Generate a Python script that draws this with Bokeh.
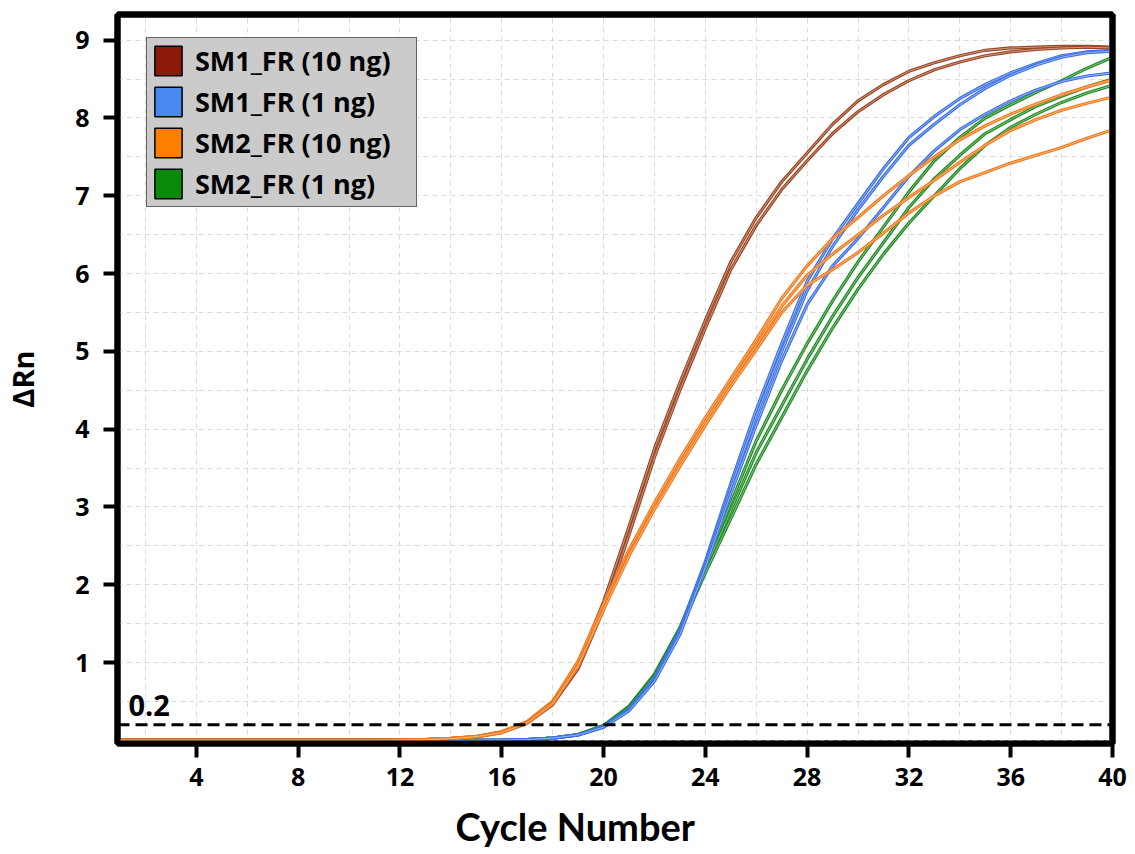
from bokeh.plotting import figure
from bokeh.models import (Span, Label, Legend, LegendItem, FixedTicker,
                          SingleIntervalTicker, LinearAxis, Title)
from bokeh.embed import file_html
from bokeh.resources import INLINE

# ---- data: amplification curves (delta Rn per cycle) ----
cycles = list(range(1, 41))
x_ticks = [4, 8, 12, 16, 20, 24, 28, 32, 36, 40]
y_ticks = [1, 2, 3, 4, 5, 6, 7, 8, 9]
threshold = 0.2

base11 = [0.0] * 11
base14 = [0.0] * 14

sm1_10ng_a = base11 + [0.005, 0.01, 0.025, 0.05, 0.11, 0.24, 0.50, 0.98, 1.78, 2.75,
                       3.75, 4.6, 5.4, 6.15, 6.72, 7.18, 7.55, 7.92, 8.22, 8.43,
                       8.6, 8.71, 8.8, 8.87, 8.9, 8.91, 8.92, 8.92, 8.91]
sm1_10ng_b = base11 + [0.004, 0.009, 0.022, 0.045, 0.10, 0.22, 0.46, 0.92, 1.68, 2.64,
                       3.64, 4.5, 5.3, 6.05, 6.62, 7.08, 7.45, 7.8, 8.08, 8.3,
                       8.48, 8.62, 8.72, 8.8, 8.85, 8.88, 8.9, 8.91, 8.9]

sm1_1ng_a = base14 + [0.002, 0.005, 0.01, 0.03, 0.07, 0.18, 0.4, 0.8, 1.42, 2.3,
                      3.3, 4.25, 5.1, 5.9, 6.45, 6.9, 7.35, 7.75, 8.02, 8.25,
                      8.43, 8.58, 8.7, 8.8, 8.85, 8.87]
sm1_1ng_b = base14 + [0.002, 0.005, 0.01, 0.03, 0.07, 0.17, 0.39, 0.78, 1.39, 2.26,
                      3.24, 4.17, 5.0, 5.78, 6.35, 6.82, 7.25, 7.65, 7.92, 8.17,
                      8.38, 8.55, 8.68, 8.78, 8.84, 8.86]
sm1_1ng_c = base14 + [0.002, 0.005, 0.01, 0.03, 0.07, 0.17, 0.38, 0.76, 1.36, 2.22,
                      3.17, 4.05, 4.88, 5.6, 6.1, 6.45, 6.85, 7.25, 7.58, 7.85,
                      8.05, 8.22, 8.36, 8.47, 8.54, 8.58]

sm2_10ng_a = base11 + [0.005, 0.01, 0.025, 0.05, 0.11, 0.24, 0.50, 1.02, 1.75, 2.45,
                       3.05, 3.62, 4.15, 4.65, 5.15, 5.68, 6.1, 6.45, 6.72, 7.0,
                       7.26, 7.5, 7.72, 7.9, 8.05, 8.18, 8.3, 8.4, 8.49]
sm2_10ng_b = base11 + [0.005, 0.01, 0.024, 0.05, 0.105, 0.23, 0.48, 0.98, 1.7, 2.4,
                       3.0, 3.56, 4.1, 4.6, 5.08, 5.58, 5.98, 6.25, 6.5, 6.75,
                       6.98, 7.2, 7.43, 7.65, 7.84, 7.98, 8.1, 8.19, 8.27]
sm2_10ng_c = base11 + [0.004, 0.009, 0.022, 0.048, 0.10, 0.225, 0.47, 0.96, 1.68, 2.37,
                       2.97, 3.52, 4.05, 4.55, 5.02, 5.5, 5.85, 6.05, 6.27, 6.52,
                       6.78, 7.0, 7.18, 7.3, 7.42, 7.52, 7.62, 7.74, 7.85]

sm2_1ng_a = base14 + [0.002, 0.005, 0.01, 0.03, 0.075, 0.19, 0.44, 0.85, 1.45, 2.25,
                      3.05, 3.85, 4.5, 5.1, 5.65, 6.15, 6.6, 7.05, 7.45, 7.75,
                      8.0, 8.17, 8.33, 8.48, 8.64, 8.78]
sm2_1ng_b = base14 + [0.002, 0.005, 0.01, 0.03, 0.075, 0.19, 0.43, 0.84, 1.43, 2.2,
                      2.95, 3.7, 4.3, 4.9, 5.45, 5.95, 6.4, 6.85, 7.22, 7.52,
                      7.8, 7.98, 8.15, 8.28, 8.4, 8.5]
sm2_1ng_c = base14 + [0.002, 0.005, 0.01, 0.03, 0.072, 0.18, 0.42, 0.83, 1.42, 2.15,
                      2.85, 3.55, 4.15, 4.75, 5.3, 5.8, 6.25, 6.65, 7.0, 7.35,
                      7.65, 7.88, 8.05, 8.2, 8.32, 8.42]

groups = [
    # (legend label, legend colour, curve colour, replicates)
    ("SM1_FR (10 ng)", "#8b1a0a", "#9c4522", [sm1_10ng_a, sm1_10ng_b]),
    ("SM1_FR (1 ng)", "#4a88f2", "#3d72e4", [sm1_1ng_a, sm1_1ng_b, sm1_1ng_c]),
    ("SM2_FR (10 ng)", "#ff7f00", "#f27a1c", [sm2_10ng_a, sm2_10ng_b, sm2_10ng_c]),
    ("SM2_FR (1 ng)", "#0b8a0b", "#1f8d23", [sm2_1ng_a, sm2_1ng_b, sm2_1ng_c]),
]
draw_order = [3, 1, 0, 2]

FONT = "Open Sans"

p = figure(frame_width=995, frame_height=729,
           min_border_left=117, min_border_right=23,
           min_border_top=14, min_border_bottom=111,
           x_range=(0.9, 40), y_range=(-0.04, 9.33),
           output_backend="svg", toolbar_location=None)

p.background_fill_color = "white"
p.border_fill_color = "white"
p.outline_line_color = "black"
p.outline_line_width = 6

# dashed grid: every 2 cycles and every 0.5 units
p.xgrid.ticker = SingleIntervalTicker(interval=2)
p.ygrid.ticker = SingleIntervalTicker(interval=0.5)
for g in (p.xgrid, p.ygrid):
    g.grid_line_color = "#dadada"
    g.grid_line_dash = "5 4"
    g.grid_line_width = 1

p.xaxis.ticker = FixedTicker(ticks=x_ticks)
p.yaxis.ticker = FixedTicker(ticks=y_ticks)
for ax in (p.xaxis, p.yaxis):
    ax.axis_line_color = "black"
    ax.axis_line_width = 6
    ax.major_tick_in = 0
    ax.major_tick_out = 14
    ax.major_tick_line_width = 4
    ax.major_tick_line_color = "black"
    ax.minor_tick_line_color = None
    ax.major_label_text_font = FONT
    ax.major_label_text_font_style = "bold"
    ax.major_label_text_font_size = "25px"
    ax.major_label_text_color = "black"
    ax.axis_label_text_color = "black"
p.xaxis.major_label_standoff = 10
p.yaxis.major_label_standoff = 14

# plain heavy frame lines on the top and right sides
for side in ("above", "right"):
    frame_axis = LinearAxis(ticker=FixedTicker(ticks=[]),
                            axis_line_color="black", axis_line_width=6,
                            major_tick_line_color=None,
                            minor_tick_line_color=None,
                            major_label_text_font_size="0px")
    p.add_layout(frame_axis, side)

p.yaxis[0].axis_label = "ΔRn"
p.yaxis[0].axis_label_text_font = FONT
p.yaxis[0].axis_label_text_font_style = "bold"
p.yaxis[0].axis_label_text_font_size = "29px"
p.yaxis[0].axis_label_standoff = 30

# x-axis title, sitting a little left of the frame centre
p.add_layout(Title(text="Cycle Number", align="left", offset=338,
                   standoff=24, text_font="Lato", text_font_style="bold",
                   text_font_size="38px", text_color="black"), "below")

# amplification curves
for gi in draw_order:
    label, _, curve_col, reps = groups[gi]
    for vals in reps:
        p.line(cycles, vals, line_color=curve_col, line_width=3.2)
        p.line(cycles, vals, line_color="white", line_alpha=0.45, line_width=1)

# threshold
p.add_layout(Span(location=threshold, dimension="width", line_color="black",
                  line_width=3, line_dash="12 6"))
p.add_layout(Label(x=1.33, y=threshold, text=str(threshold), y_offset=19,
                   text_baseline="alphabetic", text_font=FONT,
                   text_font_style="bold", text_font_size="29px",
                   text_color="black"))

# legend with filled squares (legend-only glyphs with no drawn data)
nan = float("nan")
items = []
for label, leg_col, _, _ in groups:
    r = p.rect(x=[nan], y=[nan], width=1, height=1, fill_color=leg_col,
               line_color="black", line_width=1.5)
    items.append(LegendItem(label=label, renderers=[r]))

legend = Legend(items=items, location=(29, 536),
                glyph_width=34, glyph_height=37, label_height=37,
                label_width=217,
                spacing=4, padding=4, margin=0, label_standoff=10,
                background_fill_color="#cbcbcb", background_fill_alpha=1,
                border_line_color="black", border_line_width=1.5,
                label_text_font=FONT, label_text_font_style="bold",
                label_text_font_size="27px", label_text_color="black")
p.add_layout(legend)

open("out.html", "w").write(file_html(p, INLINE))
